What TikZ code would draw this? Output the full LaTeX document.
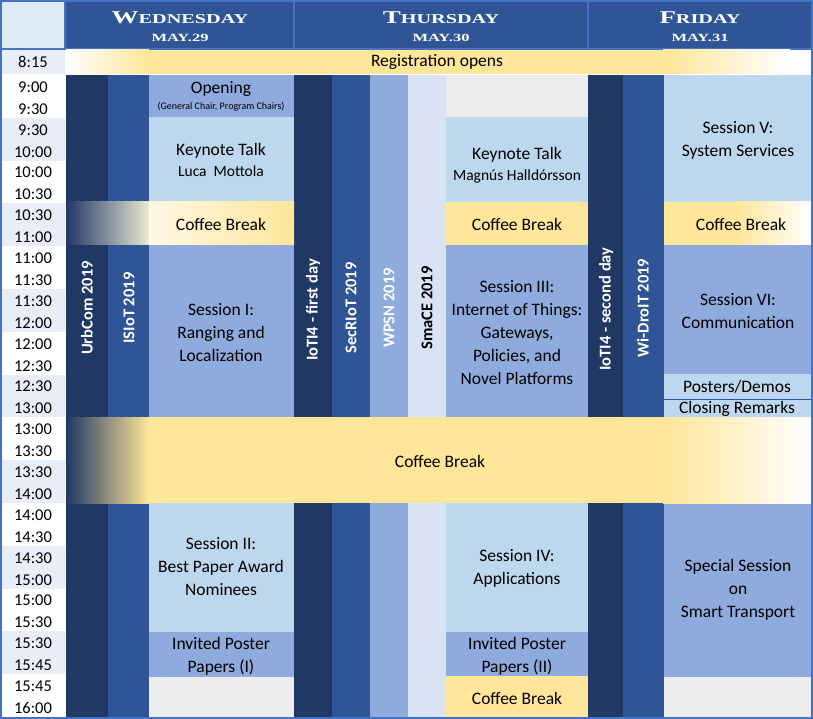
\documentclass[tikz,border=0pt]{standalone}
\usepackage{fontspec}
\setmainfont{Carlito}
\newfontfamily\dayfont[FakeStretch=1.5]{Liberation Serif}
\usepackage{xcolor}
\usetikzlibrary{positioning}
\definecolor{navy}{HTML}{203864}
\definecolor{royal}{HTML}{2F5597}
\definecolor{sky}{HTML}{8FAADC}
\definecolor{pale}{HTML}{BDD7EE}
\definecolor{mist}{HTML}{DAE3F3}
\definecolor{butter}{HTML}{FFE699}
\definecolor{ash}{HTML}{EDEDED}
\definecolor{rim}{HTML}{4472C4}
\definecolor{rowtint}{HTML}{E9EDF7}
\definecolor{corner}{HTML}{DEEBF7}
\tikzset{%
  txt/.style={font=\fontsize{17.5}{23}\selectfont, align=center, inner sep=0pt},
  small txt/.style={font=\fontsize{15.5}{20}\selectfont, inner sep=0pt},
  time/.style={font=\fontsize{16.5}{16.5}\selectfont, inner sep=0pt},
  track/.style={rotate=90, font=\fontsize{16.5}{16.5}\selectfont\bfseries, text=white, inner sep=0pt},
  day/.style={text=white, inner sep=0pt, anchor=base, font=\dayfont\bfseries}
}
\newcommand{\bigday}[2]{\fontsize{18}{18}\selectfont #1\fontsize{13.5}{14}\selectfont #2}
\newcommand{\dateline}[1]{\fontsize{11}{11}\selectfont #1}

\begin{document}
\begin{tikzpicture}[x=1pt, y=-1pt]
    \useasboundingbox (0,0) rectangle (813,719);
    \fill[white] (0,0) rectangle (813,719);

    % header
    \fill[corner] (2,2) rectangle (65,48);
    \fill[royal] (66,2) rectangle (811,48);
    \draw[rim, line width=2pt] (65,0) -- (65,49);
    \draw[rim, line width=2pt] (294,0) -- (294,49);
    \draw[rim, line width=2pt] (588,0) -- (588,49);
    \draw[rim, line width=2pt] (0,49) -- (813,49);

    \node[day] (wed) at (180,24) {\bigday{W}{EDNESDAY}};
    \node[day] (wedd) at (180,42) {\dateline{MAY.29}};
    \node[day] (thu) at (441,24) {\bigday{T}{HURSDAY}};
    \node[day] (thud) at (441,42) {\dateline{MAY.30}};
    \node[day] (fri) at (700,24) {\bigday{F}{RIDAY}};
    \node[day] (frid) at (700,42) {\dateline{MAY.31}};

    % time column
    \fill[rowtint] (2,50) rectangle (65,74);
    \node[time] (t815) at (33,62) {8:15};
    \foreach \a/\b [count=\i from 0] in {9:00/9:30, 9:30/10:00, 10:00/10:30, 10:30/11:00,
        11:00/11:30, 11:30/12:00, 12:00/12:30, 12:30/13:00, 13:00/13:30, 13:30/14:00,
        14:00/14:30, 14:30/15:00, 15:00/15:30, 15:30/15:45, 15:45/16:00}{
      \pgfmathsetmacro{\rowtop}{75+42.8*\i}
      \ifodd\i \fill[rowtint] (2,\rowtop) rectangle (65,{\rowtop+42.8}); \fi
      \node[time] (ta\i) at (33,{\rowtop+12}) {\a};
      \node[time] (tb\i) at (33,{\rowtop+34}) {\b};
    }

    % registration
    \fill[left color=white, right color=butter] (66,50) rectangle (149,74);
    \fill[butter] (149,50) rectangle (663,74);
    \fill[left color=butter, right color=white] (663,50) rectangle (790,74);
    \node[txt] (reg) at (437,62) {Registration opens};

    % tracks
    \fill[navy] (66,75) rectangle (108,717);
    \fill[royal] (108,75) rectangle (149,717);
    \fill[navy] (294,75) rectangle (332,717);
    \fill[royal] (332,75) rectangle (370,717);
    \fill[sky] (370,75) rectangle (408,717);
    \fill[mist] (408,75) rectangle (446,717);
    \fill[navy] (588,75) rectangle (623,717);
    \fill[royal] (623,75) rectangle (664,717);

    % wednesday
    \fill[sky] (149,75) rectangle (294,117);
    \fill[pale] (149,117) rectangle (294,202);
    \fill[left color=navy, right color=corner!60!butter] (66,202) rectangle (149,245);
    \fill[left color=butter!25, right color=butter] (149,202) rectangle (294,245);
    \fill[sky] (149,245) rectangle (294,417);
    \fill[pale] (149,503) rectangle (294,632);
    \fill[sky] (149,632) rectangle (294,677);
    \fill[ash] (149,677) rectangle (294,717);

    % thursday
    \fill[ash] (446,75) rectangle (588,117);
    \fill[pale] (446,117) rectangle (588,202);
    \fill[butter] (446,202) rectangle (588,245);
    \fill[sky] (446,245) rectangle (588,417);
    \fill[pale] (446,503) rectangle (588,632);
    \fill[sky] (446,632) rectangle (588,676);
    \fill[butter] (446,676) rectangle (588,717);

    % friday
    \fill[pale] (664,75) rectangle (811,202);
    \fill[butter] (664,202) rectangle (735,245);
    \fill[left color=butter, right color=white] (735,202) rectangle (811,245);
    \fill[sky] (664,245) rectangle (811,374);
    \fill[pale] (664,374) rectangle (811,417);
    \draw[royal, line width=1pt] (664,399) -- (811,399);
    \fill[sky] (664,503) rectangle (811,677);
    \fill[ash] (664,677) rectangle (811,717);

    % lunch
    \fill[left color=navy, right color=butter] (66,417) rectangle (149,503);
    \fill[butter] (149,417) rectangle (663,503);
    \fill[left color=butter, right color=white] (663,417) rectangle (811,503);

    % outer frame
    \draw[rim, line width=2pt] (1,1) rectangle (812,718);

    % track labels
    \node[track] (urbcom) at (87,308) {UrbCom 2019};
    \node[track] (isiot) at (129,308) {ISIoT 2019};
    \node[track] (ioti1) at (313,310) {IoTI4 - first day};
    \node[track] (secriot) at (351,308) {SecRIoT 2019};
    \node[track, text=white!92!mist] (wpsn) at (389,308) {WPSN 2019};
    \node[track, text=black] (smace) at (427,308) {SmaCE 2019};
    \node[track] (ioti2) at (606,309) {IoTI4 - second day};
    \node[track] (widroit) at (643,308) {Wi-DroIT 2019};

    % wednesday texts
    \node[txt] (open) at (221,89) {Opening};
    \node[inner sep=0pt, font=\fontsize{10}{10}\selectfont] (chairs) at (221,107) {(General Chair, Program Chairs)};
    \node[txt] (key1) at (221,151) {Keynote Talk};
    \node[small txt] (luca) at (221,171) {Luca\ \ Mottola};
    \node[txt] (cb1) at (221,224) {Coffee Break};
    \node[txt] (ses1) at (221,333) {Session I:\\Ranging and\\Localization};
    \node[txt] (ses2) at (221,567) {Session II:\\Best Paper Award\\Nominees};
    \node[txt] (inv1) at (221,656) {Invited Poster\\Papers (I)};

    % thursday texts
    \node[txt] (key2) at (517,155) {Keynote Talk};
    \node[small txt] (magnus) at (517,176) {Magnús Halldórsson};
    \node[txt] (cb2) at (517,224) {Coffee Break};
    \node[txt] (ses3) at (517,333) {Session III:\\Internet of Things:\\Gateways,\\Policies, and\\Novel Platforms};
    \node[txt] (ses4) at (517,568) {Session IV:\\Applications};
    \node[txt] (inv2) at (517,656) {Invited Poster\\Papers (II)};
    \node[txt] (cb4) at (517,698) {Coffee Break};

    % friday texts
    \node[txt] (ses5) at (738,140) {Session V:\\System Services};
    \node[txt] (cb3) at (741,224) {Coffee Break};
    \node[txt] (ses6) at (738,311) {Session VI:\\Communication};
    \node[txt] (posters) at (737,387) {Posters/Demos};
    \node[txt] (closing) at (737,409) {Closing Remarks};
    \node[txt] (special) at (738,590) {Special Session\\on\\Smart Transport};

    % lunch text
    \node[txt] (lunch) at (440,461) {Coffee Break};
\end{tikzpicture}
\end{document}
